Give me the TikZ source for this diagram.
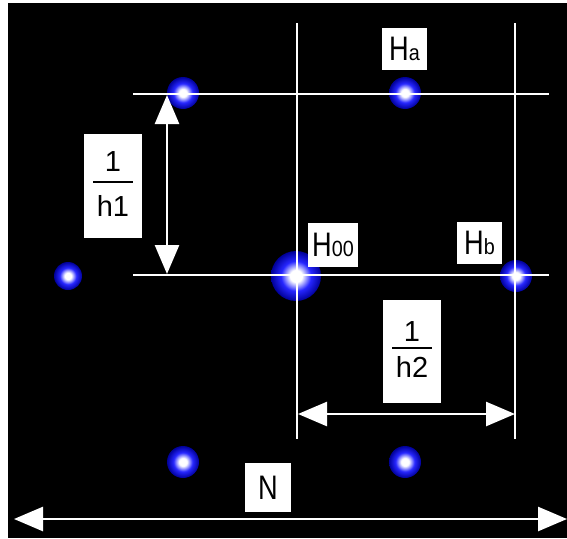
\documentclass[tikz,border=0pt]{standalone}
\usepackage{fontspec}
\setmainfont{Liberation Sans}
\usetikzlibrary{arrows.meta}
\pgfdeclareradialshading{spotshade}{\pgfpoint{0bp}{0bp}}{%
  color(0bp)=(white); color(6bp)=(white); color(15bp)=(blue!85!white);
  color(25bp)=(blue!60!black); color(37bp)=(blue!20!black); color(48bp)=(black); color(50bp)=(black)}
\tikzset{
  guide/.style={draw=white, line width=2.5pt},
  dimarrow/.style={draw=white, line width=2.6pt, {Triangle[length=29pt,width=24pt]}-{Triangle[length=29pt,width=24pt]}},
  labelbox/.style={fill=white, inner sep=0pt, text=black, anchor=center},
  spot/.style={shading=spotshade},
  fractxt/.style={font=\fontsize{29}{29}\selectfont},
}
\newcommand{\bigH}[1]{\scalebox{0.8}[1]{\fontsize{34}{34}\selectfont #1}}
\newcommand{\lblH}[1]{\bigH{H}\scalebox{0.9}[1]{\fontsize{22}{22}\selectfont #1}}
\begin{document}
\begin{tikzpicture}[x=1pt,y=-1pt]
\useasboundingbox (0,0) rectangle (567,538);
\fill[white] (0,0) rectangle (567,538);
\fill[black] (8,3) rectangle (567,538);
% spots
\shade[spot] (183,93) circle (16);
\shade[spot] (405,93) circle (16);
\shade[spot] (68,276) circle (14);
\shade[spot] (296,276) circle (25);
\shade[spot] (516,276) circle (16);
\shade[spot] (183,462) circle (16);
\shade[spot] (405,462) circle (16);
% guide line end points
\coordinate (h1l) at (133,94);  \coordinate (h1r) at (549,94);
\coordinate (h2l) at (133,275); \coordinate (h2r) at (549,275);
\coordinate (v1t) at (297,23);  \coordinate (v1b) at (297,439);
\coordinate (v2t) at (515,23);  \coordinate (v2b) at (515,439);
\draw[guide] (h1l) -- (h1r);
\draw[guide] (h2l) -- (h2r);
\draw[guide] (v1t) -- (v1b);
\draw[guide] (v2t) -- (v2b);
% dimension arrows
\coordinate (a1t) at (167,95);  \coordinate (a1b) at (167,274);
\coordinate (a2l) at (298,414); \coordinate (a2r) at (515,414);
\coordinate (nl) at (14,519);   \coordinate (nr) at (567,519);
\draw[dimarrow] (a1t) -- (a1b);
\draw[dimarrow] (a2l) -- (a2r);
\draw[dimarrow] (nl) -- (nr);
% labels
\node[labelbox, minimum width=45pt, minimum height=42pt] (Ha) at (404.5,49) {\lblH{a}};
\node[labelbox, minimum width=50pt, minimum height=44pt] (H00) at (333,245) {\lblH{00}};
\node[labelbox, minimum width=45pt, minimum height=42pt] (Hb) at (479.5,243) {\lblH{b}};
\node[labelbox, minimum width=46pt, minimum height=49pt] (N) at (268,487.5) {\bigH{N}};
% fraction 1/h1
\node[labelbox, minimum width=58pt, minimum height=104pt] (f1) at (113,186) {};
\node[fractxt, inner sep=0pt] (f1n) at (113,162) {1};
\node[fractxt, inner sep=0pt] (f1d) at (113,206) {h1};
\coordinate (f1rl) at (93,182); \coordinate (f1rr) at (133,182);
\draw[line width=2.5pt] (f1rl) -- (f1rr);
% fraction 1/h2
\node[labelbox, minimum width=58pt, minimum height=103pt] (f2) at (412,351.5) {};
\node[fractxt, inner sep=0pt] (f2n) at (412,332) {1};
\node[fractxt, inner sep=0pt] (f2d) at (412,367) {h2};
\coordinate (f2rl) at (392,348); \coordinate (f2rr) at (432,348);
\draw[line width=2.5pt] (f2rl) -- (f2rr);
\end{tikzpicture}
\end{document}
